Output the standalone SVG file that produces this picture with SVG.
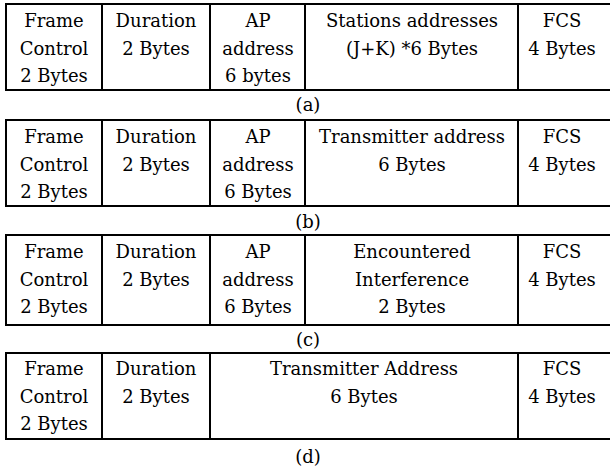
<svg xmlns="http://www.w3.org/2000/svg" width="610" height="472" viewBox="0 0 610 472">
  <style>
    .cell { fill: #fff; stroke: #000; stroke-width: 2; }
    .t { font-family: "DejaVu Serif", serif; font-size: 18px; fill: #000; text-anchor: middle; }
  </style>
  <rect width="610" height="472" fill="#fff"/>

  <!-- Frame (a) -->
  <g id="frame-a">
    <g id="a-fc"><rect class="cell" x="6" y="4" width="96" height="86"/>
      <text class="t" x="54" y="27">Frame</text><text class="t" x="54" y="54.5">Control</text><text class="t" x="54" y="82">2 Bytes</text></g>
    <g id="a-dur"><rect class="cell" x="102" y="4" width="108" height="86"/>
      <text class="t" x="156" y="27">Duration</text><text class="t" x="156" y="54.5">2 Bytes</text></g>
    <g id="a-ap"><rect class="cell" x="210" y="4" width="95" height="86"/>
      <text class="t" x="258" y="27">AP</text><text class="t" x="258" y="54.5">address</text><text class="t" x="258" y="82">6 bytes</text></g>
    <g id="a-sta"><rect class="cell" x="305" y="4" width="213" height="86"/>
      <text class="t" x="412" y="27">Stations addresses</text><text class="t" x="412" y="54.5">(J+K) *6 Bytes</text></g>
    <g id="a-fcs"><rect class="cell" x="518" y="4" width="96" height="86"/>
      <text class="t" x="562" y="27">FCS</text><text class="t" x="562" y="54.5">4 Bytes</text></g>
    <text class="t" x="308" y="111">(a)</text>
  </g>

  <!-- Frame (b) -->
  <g id="frame-b">
    <g id="b-fc"><rect class="cell" x="6" y="120" width="96" height="86"/>
      <text class="t" x="54" y="143">Frame</text><text class="t" x="54" y="170.5">Control</text><text class="t" x="54" y="198">2 Bytes</text></g>
    <g id="b-dur"><rect class="cell" x="102" y="120" width="108" height="86"/>
      <text class="t" x="156" y="143">Duration</text><text class="t" x="156" y="170.5">2 Bytes</text></g>
    <g id="b-ap"><rect class="cell" x="210" y="120" width="95" height="86"/>
      <text class="t" x="258" y="143">AP</text><text class="t" x="258" y="170.5">address</text><text class="t" x="258" y="198">6 Bytes</text></g>
    <g id="b-tx"><rect class="cell" x="305" y="120" width="213" height="86"/>
      <text class="t" x="412" y="143">Transmitter address</text><text class="t" x="412" y="170.5">6 Bytes</text></g>
    <g id="b-fcs"><rect class="cell" x="518" y="120" width="96" height="86"/>
      <text class="t" x="562" y="143">FCS</text><text class="t" x="562" y="170.5">4 Bytes</text></g>
    <text class="t" x="308" y="228">(b)</text>
  </g>

  <!-- Frame (c) -->
  <g id="frame-c">
    <g id="c-fc"><rect class="cell" x="6" y="235" width="96" height="90"/>
      <text class="t" x="54" y="258">Frame</text><text class="t" x="54" y="285.5">Control</text><text class="t" x="54" y="313">2 Bytes</text></g>
    <g id="c-dur"><rect class="cell" x="102" y="235" width="108" height="90"/>
      <text class="t" x="156" y="258">Duration</text><text class="t" x="156" y="285.5">2 Bytes</text></g>
    <g id="c-ap"><rect class="cell" x="210" y="235" width="95" height="90"/>
      <text class="t" x="258" y="258">AP</text><text class="t" x="258" y="285.5">address</text><text class="t" x="258" y="313">6 Bytes</text></g>
    <g id="c-int"><rect class="cell" x="305" y="235" width="213" height="90"/>
      <text class="t" x="412" y="258">Encountered</text><text class="t" x="412" y="285.5">Interference</text><text class="t" x="412" y="313">2 Bytes</text></g>
    <g id="c-fcs"><rect class="cell" x="518" y="235" width="96" height="90"/>
      <text class="t" x="562" y="258">FCS</text><text class="t" x="562" y="285.5">4 Bytes</text></g>
    <text class="t" x="308" y="346">(c)</text>
  </g>

  <!-- Frame (d) -->
  <g id="frame-d">
    <g id="d-fc"><rect class="cell" x="6" y="353" width="96" height="86"/>
      <text class="t" x="54" y="375">Frame</text><text class="t" x="54" y="402.5">Control</text><text class="t" x="54" y="430">2 Bytes</text></g>
    <g id="d-dur"><rect class="cell" x="102" y="353" width="108" height="86"/>
      <text class="t" x="156" y="375">Duration</text><text class="t" x="156" y="402.5">2 Bytes</text></g>
    <g id="d-tx"><rect class="cell" x="210" y="353" width="308" height="86"/>
      <text class="t" x="364" y="375">Transmitter Address</text><text class="t" x="364" y="402.5">6 Bytes</text></g>
    <g id="d-fcs"><rect class="cell" x="518" y="353" width="96" height="86"/>
      <text class="t" x="562" y="375">FCS</text><text class="t" x="562" y="402.5">4 Bytes</text></g>
    <text class="t" x="308" y="463">(d)</text>
  </g>
</svg>
